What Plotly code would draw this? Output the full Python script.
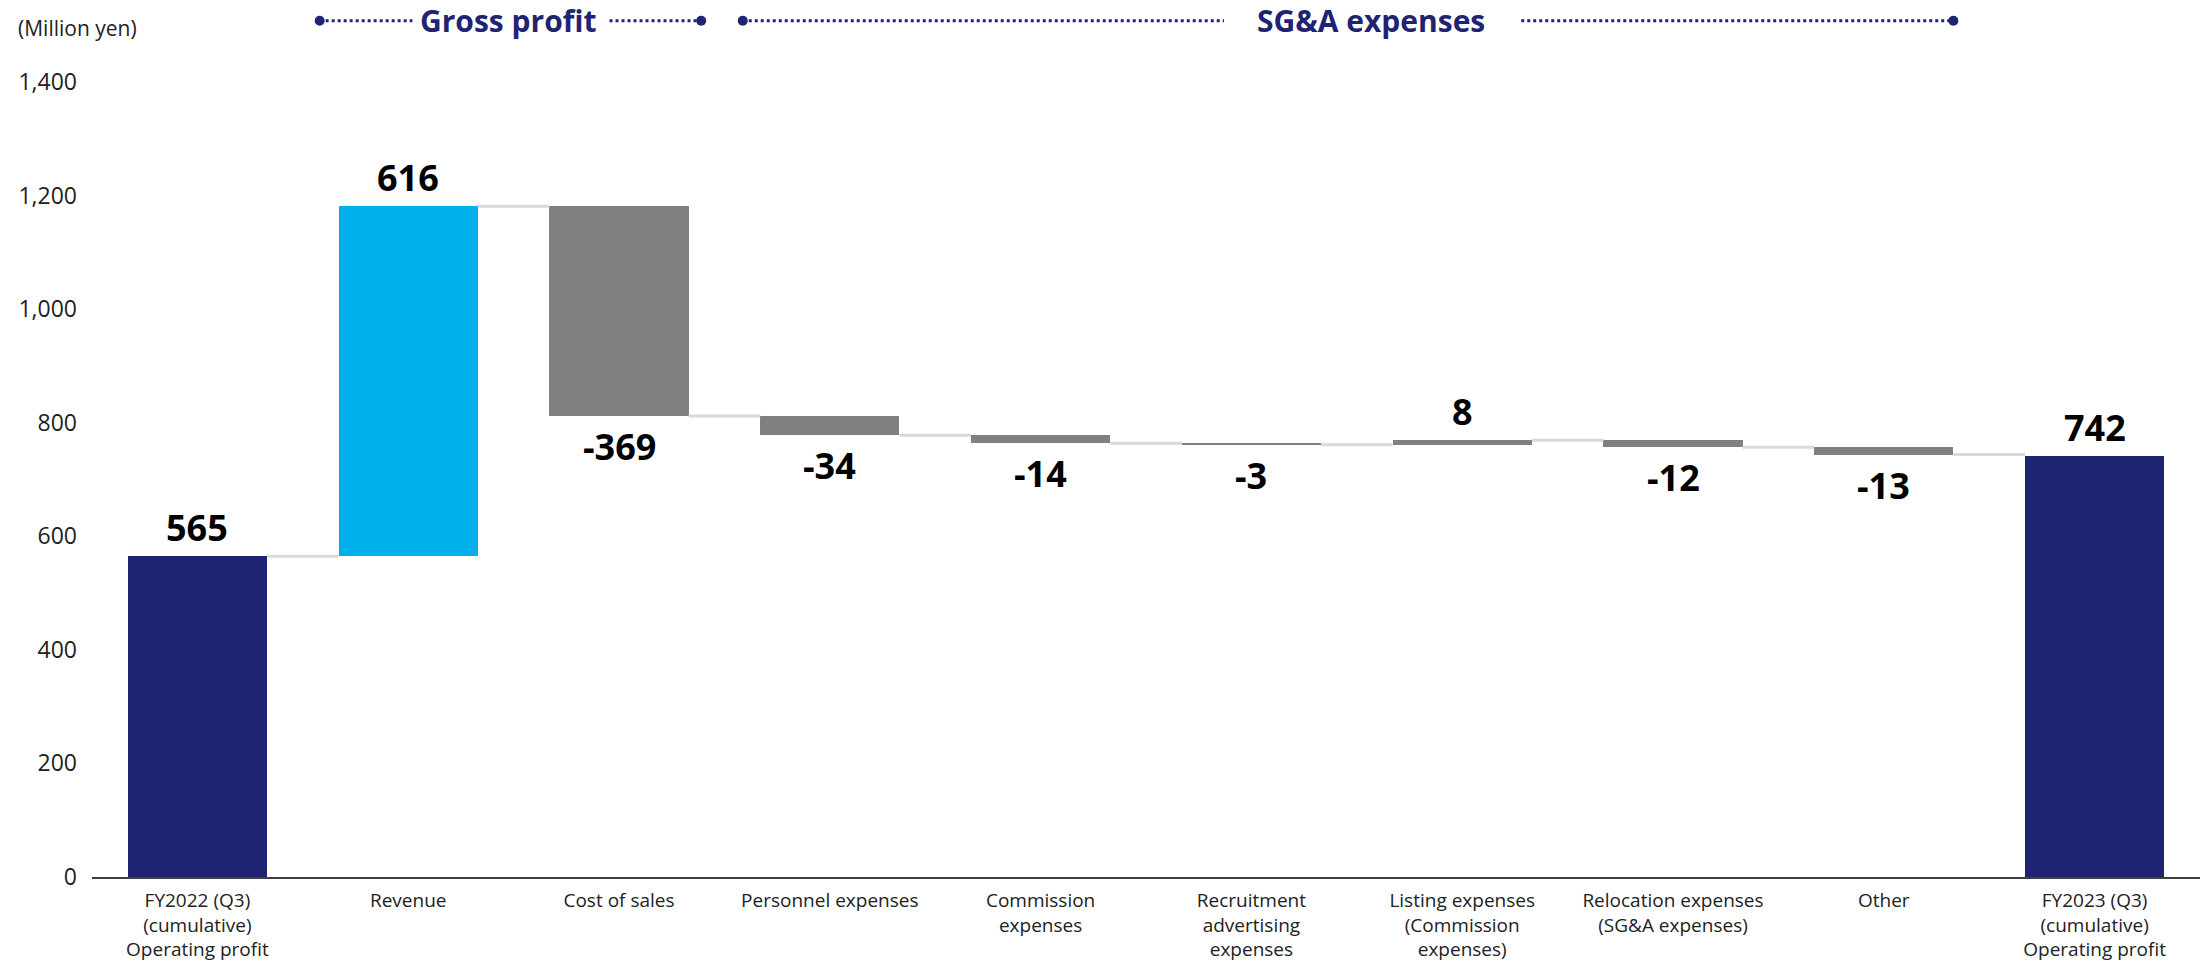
import plotly.graph_objects as go

# Operating profit bridge, FY2022 (Q3) -> FY2023 (Q3), million yen
categories = [
    "FY2022 (Q3)<br>(cumulative)<br>Operating profit",
    "Revenue",
    "Cost of sales",
    "Personnel expenses",
    "Commission<br>expenses",
    "Recruitment<br>advertising<br>expenses",
    "Listing expenses<br>(Commission<br>expenses)",
    "Relocation expenses<br>(SG&A expenses)",
    "Other",
    "FY2023 (Q3)<br>(cumulative)<br>Operating profit",
]
values = [565, 616, -369, -34, -14, -3, 8, -12, -13, 742]
kinds = ["total", "up", "down", "down", "down", "down", "up", "down", "down", "total"]
y_ticks = [0, 200, 400, 600, 800, 1000, 1200, 1400]

NAVY = "#1F2472"
CYAN = "#00B0EB"
GRAY = "#808080"
CONNECTOR = "#D9D9D9"
FONT = "Open Sans"

# running totals -> bar bases and ends
bases, ends = [], []
level = 0
for v, k in zip(values, kinds):
    if k == "total":
        b = 0
        level = v
    else:
        b = level
        level = level + v
    bases.append(b)
    ends.append(b + v)

colors = []
for i, k in enumerate(kinds):
    if k == "total":
        colors.append(NAVY)
    elif i == 1:
        colors.append(CYAN)
    else:
        colors.append(GRAY)

xs = list(range(len(categories)))
BAR_W = 0.66

fig = go.Figure()

# connectors between consecutive bars
cx, cy = [], []
for i in range(len(values) - 1):
    lvl = ends[i]
    cx += [i + BAR_W / 2, i + 1 - BAR_W / 2, None]
    cy += [lvl, lvl, None]
fig.add_trace(go.Scatter(x=cx, y=cy, mode="lines",
                         line=dict(color=CONNECTOR, width=3),
                         hoverinfo="skip", showlegend=False))

fig.add_trace(go.Bar(
    x=xs, y=values, base=bases, width=BAR_W,
    marker=dict(color=colors, line=dict(width=0)),
    showlegend=False, hoverinfo="skip",
))

# value labels above rising ends, below falling ends
for i, (v, k) in enumerate(zip(values, kinds)):
    top = max(bases[i], ends[i])
    bot = min(bases[i], ends[i])
    if v >= 0:
        fig.add_annotation(x=i, y=top, text=f"<b>{v}</b>", showarrow=False,
                           yanchor="bottom", yshift=2,
                           font=dict(family=FONT, size=36, color="#000000"))
    else:
        fig.add_annotation(x=i, y=bot, text=f"<b>{v}</b>", showarrow=False,
                           yanchor="top", yshift=-4,
                           font=dict(family=FONT, size=36, color="#000000"))

# section headers with dotted spans
HEADER_Y = 1.077
spans = [
    ("Gross profit", 0.58, 1.02, 1.955, 2.39, 1.476),
    ("SG&A expenses", 2.587, 4.87, 6.28, 8.33, 5.567),
]
for label, x0, x1, x2, x3, xc in spans:
    for a, b in ((x0, x1), (x2, x3)):
        fig.add_shape(type="line", xref="x", yref="paper", x0=a, x1=b,
                      y0=HEADER_Y, y1=HEADER_Y,
                      line=dict(color=NAVY, width=3, dash="dot"))
    for xp in (x0, x3):
        fig.add_shape(type="circle", xref="x", yref="paper",
                      xsizemode="pixel", ysizemode="pixel",
                      xanchor=xp, yanchor=HEADER_Y,
                      x0=-5, x1=5, y0=-5, y1=5,
                      fillcolor=NAVY, line=dict(color=NAVY, width=0))
    fig.add_annotation(x=xc, y=HEADER_Y, xref="x", yref="paper",
                       text=f"<b>{label}</b>", showarrow=False,
                       xanchor="center", yanchor="middle",
                       font=dict(family=FONT, size=30, color=NAVY))

fig.add_annotation(x=0, y=1.0, xref="paper", yref="paper", xshift=-76, yshift=54,
                   xanchor="left", yanchor="middle", text="(Million yen)",
                   showarrow=False, font=dict(family=FONT, size=21, color="#222222"))

fig.update_layout(
    width=2206, height=964,
    margin=dict(l=92, r=6, t=82, b=87),
    paper_bgcolor="white", plot_bgcolor="white",
    font=dict(family=FONT, color="#222222"),
    bargap=0,
)
fig.update_xaxes(
    range=[-0.5, len(categories) - 0.5],
    tickmode="array", tickvals=xs, ticktext=categories,
    tickfont=dict(family=FONT, size=19, color="#222222"),
    showline=True, linecolor="#404040", linewidth=2,
    showgrid=False, zeroline=False, ticks="", fixedrange=True,
    ticklabelstandoff=5, automargin=False,
)
fig.update_yaxes(
    range=[0, 1400], tickmode="array", tickvals=y_ticks,
    ticktext=[f"{t:,}" for t in y_ticks],
    tickfont=dict(family=FONT, size=23, color="#222222"),
    showgrid=False, zeroline=False, showline=False, ticks="",
    ticklabelstandoff=14, automargin=False,
)

fig.write_html("out.html")
